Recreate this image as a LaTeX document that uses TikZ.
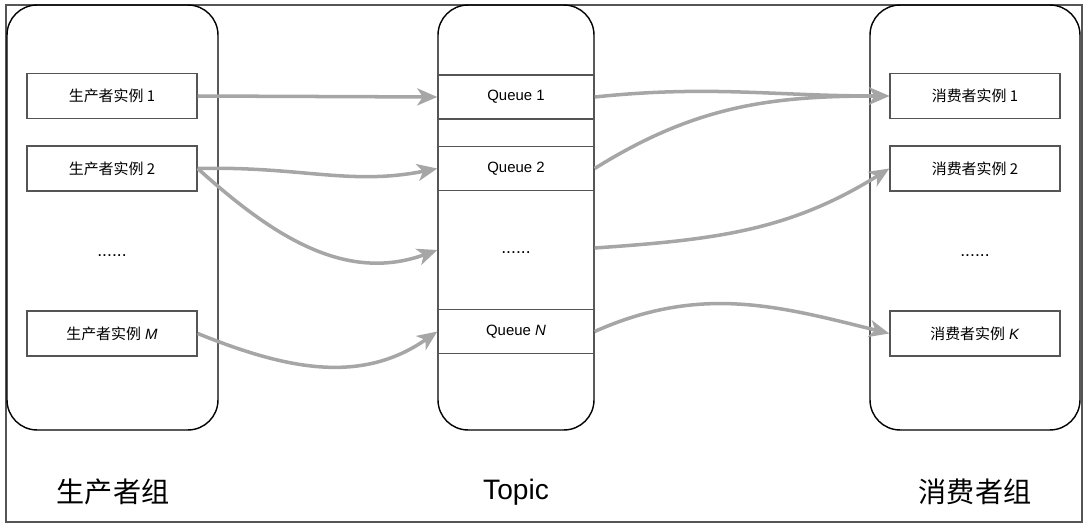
\documentclass[tikz,border=0pt]{standalone}
\usepackage{fontspec}
\setmainfont{Liberation Sans}
\newfontfamily\cjk{Noto Sans CJK SC}
\usetikzlibrary{arrows.meta}
\definecolor{flowgray}{HTML}{A6A6A6}
\definecolor{edgegray}{HTML}{555555}

\begin{document}
\begin{tikzpicture}[x=0.02cm,y=-0.02cm,
    group/.style={draw=black,line width=0.8pt,rounded corners=0.6cm,
        minimum width=#1,minimum height=8.5cm,inner sep=0pt},
    inst/.style={draw=edgegray,line width=0.8pt,minimum width=3.4cm,
        minimum height=0.9cm,inner sep=0pt,font=\fontsize{8.5}{10}\selectfont},
    queue/.style={inst,minimum width=3.12cm,minimum height=0.88cm},
    dots/.style={font=\fontsize{10}{12}\selectfont},
    title/.style={font=\fontsize{16}{18}\selectfont},
    flow/.style={draw=flowgray,line width=2pt,
        -{Stealth[length=0.4cm,width=0.34cm,inset=0.11cm]}}]
        \useasboundingbox (0,0) rectangle (1090,531);
        \draw[edgegray,line width=0.8pt] (6,5) rectangle (1082,522);

        % groups
        \node (pg) [group=4.22cm] at (112.5,217.5) {};
        \node (tg) [group=3.12cm] at (516,217.5) {};
        \node (cg) [group=4.2cm] at (975,217.5) {};

        % producers
        \node (p1) [inst] at (112,96) {\cjk 生产者实例 1};
        \node (p2) [inst] at (112,168.5) {\cjk 生产者实例 2};
        \node (pd) [dots] at (112,256) {......};
        \node (pm) [inst] at (112,333.5) {{\cjk 生产者实例} \textit{M}};

        % queues
        \node (q1) [queue] at (516,97) {Queue 1};
        \node (q2) [queue] at (516,168.5) {Queue 2};
        \node (qd) [dots] at (516,253) {......};
        \node (qn) [queue] at (516,331.5) {Queue \textit{N}};

        % consumers
        \node (c1) [inst] at (975,96) {\cjk 消费者实例 1};
        \node (c2) [inst] at (975,168.5) {\cjk 消费者实例 2};
        \node (cd) [dots] at (975,256) {......};
        \node (ck) [inst] at (975,333.5) {{\cjk 消费者实例} \textit{K}};

        \node (pt) [title] at (113,492) {\cjk 生产者组};
        \node (tt) [title] at (516,492) {Topic};
        \node (ct) [title] at (975,492) {\cjk 消费者组};

        \draw[flow] (p1.east) -- (q1.west);
        \draw[flow] (p2.east) .. controls (300,166) and (350,186) .. (q2.west);
        \draw[flow] (p2.east) to[out=-42,in=200] (tg.west |- 0,250);
        \draw[flow] (pm.east) to[out=-22,in=215] (qn.west);

        \draw[flow] (q1.east) to[out=6,in=180] (c1.west);
        \draw[flow] (q2.east) to[out=32,in=180] (c1.west);
        \draw[flow] (tg.east |- 0,248) to[out=4,in=212] (c2.west);
        \draw[flow] (qn.east) to[out=24,in=166] (ck.west);
    \end{tikzpicture}
\end{document}
